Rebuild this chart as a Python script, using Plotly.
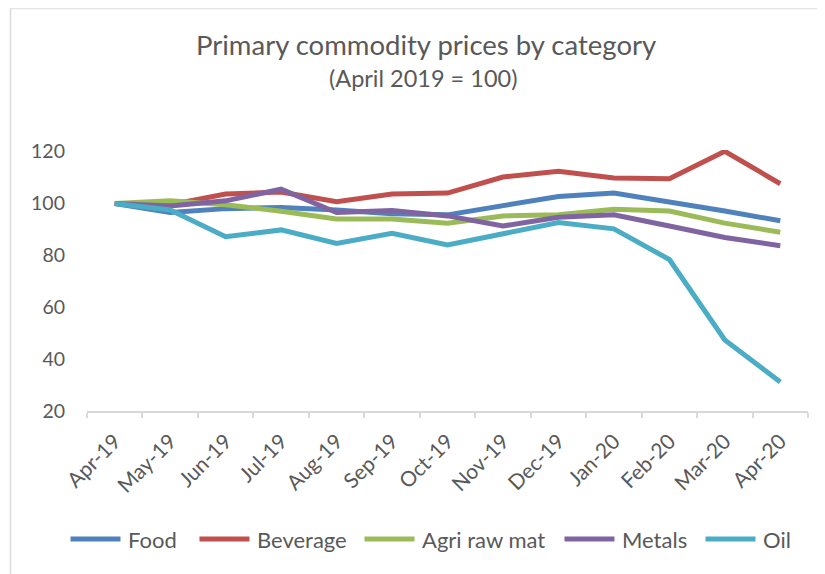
import plotly.graph_objects as go

months = ["Apr-19", "May-19", "Jun-19", "Jul-19", "Aug-19", "Sep-19", "Oct-19",
          "Nov-19", "Dec-19", "Jan-20", "Feb-20", "Mar-20", "Apr-20"]

food = [100, 96.5, 98.0, 98.4, 97.5, 96.0, 95.6, 99.0, 102.7, 104.0, 100.7, 97.1, 93.3]
beverage = [100, 99.5, 103.6, 104.4, 100.7, 103.6, 104.0, 110.2, 112.4, 109.8, 109.5, 120.1, 107.6]
agri_raw = [100, 101.0, 99.5, 97.0, 94.0, 94.0, 92.4, 95.2, 95.6, 97.8, 97.1, 92.4, 88.9]
metals = [100, 99.0, 101.0, 105.5, 96.5, 97.3, 95.2, 91.3, 94.7, 95.6, 91.3, 86.9, 83.7]
oil = [100, 97.5, 87.2, 89.8, 84.6, 88.5, 84.0, 88.5, 92.6, 90.2, 78.4, 47.4, 31.2]

series_names = ["Food", "Beverage", "Agri raw mat", "Metals", "Oil"]
series_values = [food, beverage, agri_raw, metals, oil]
colors = ["#4F81BD", "#C0504D", "#9BBB59", "#8064A2", "#4BACC6"]

y_ticks = [20, 40, 60, 80, 100, 120]

# ---- layout constants (page pixels; the page body has an 8px margin) ----
OFF = 8
W, H = 825 - OFF, 574 - OFF
# plot area on the page: x 87..808, y (120.6) 150.4 .. (20) 411
L, R = 87 - OFF, 825 - 808
T, B = 150 - OFF, 574 - 411
PW, PH = W - L - R, H - T - B
legend_y_px = 539
legend_x_px = [68, 197, 362, 562, 703]   # start of each legend line sample (page px)
legend_line_len = 55


def px_x(px):
    return (px - OFF - L) / PW


def px_y(py):
    return 1 + (T - (py - OFF)) / PH


fig = go.Figure()
for name, vals, col in zip(series_names, series_values, colors):
    fig.add_trace(go.Scatter(
        x=months, y=vals, name=name, mode="lines",
        line=dict(color=col, width=5),
        showlegend=False,
    ))

font_family = "Lato, 'Open Sans', sans-serif"
text_col = "#595959"

annotations = [
    dict(text="Primary commodity prices by category", xref="paper", yref="paper",
         x=px_x(425.5), y=px_y(45), xanchor="center", yanchor="middle", showarrow=False,
         font=dict(size=27.5, color=text_col, family=font_family)),
    dict(text="(April 2019 = 100)", xref="paper", yref="paper",
         x=px_x(423), y=px_y(78), xanchor="center", yanchor="middle", showarrow=False,
         font=dict(size=23.5, color=text_col, family=font_family)),
]
shapes = [
    # chart-area border (left edge visible)
    dict(type="line", xref="paper", yref="paper",
         x0=px_x(10.5), x1=px_x(10.5), y0=px_y(8), y1=px_y(574),
         line=dict(color="#D9D9D9", width=1.5)),
    dict(type="line", xref="paper", yref="paper",
         x0=px_x(10.5), x1=px_x(826), y0=px_y(8.7), y1=px_y(8.7),
         line=dict(color="#E4E4E4", width=1.2)),
]

# custom legend (longer line samples, like the reference)
for name, col, x0 in zip(series_names, colors, legend_x_px):
    shapes.append(dict(type="line", xref="paper", yref="paper",
                       x0=px_x(x0 + 2.5), x1=px_x(x0 + legend_line_len - 2.5),
                       y0=px_y(legend_y_px), y1=px_y(legend_y_px),
                       line=dict(color=col, width=5)))
    annotations.append(dict(text=name, xref="paper", yref="paper",
                            x=px_x(x0 + legend_line_len + 3), y=px_y(legend_y_px),
                            xanchor="left", yanchor="middle", showarrow=False,
                            font=dict(size=22, color=text_col, family=font_family)))

fig.update_layout(
    width=W, height=H,
    margin=dict(l=L, r=R, t=T, b=B, autoexpand=False),
    paper_bgcolor="white", plot_bgcolor="white",
    font=dict(family=font_family, color=text_col, size=19),
    showlegend=False,
    xaxis=dict(
        type="category", showgrid=False, zeroline=False, automargin=False,
        showline=True, linecolor="#D9D9D9", linewidth=1.5,
        ticks="outside", tickson="boundaries", ticklen=5, tickcolor="#D9D9D9", tickwidth=1.5,
        tickangle=-45, tickfont=dict(size=21, color=text_col), ticklabelstandoff=8,
        range=[-0.5, len(months) - 0.5],
    ),
    yaxis=dict(
        range=[20, 120.6], tickvals=y_ticks, showgrid=False, zeroline=False, automargin=False,
        showline=False, ticks="", ticklabelstandoff=21,
        tickfont=dict(size=19.5, color=text_col),
    ),
    annotations=annotations,
    shapes=shapes,
)

fig.write_html("out.html")
